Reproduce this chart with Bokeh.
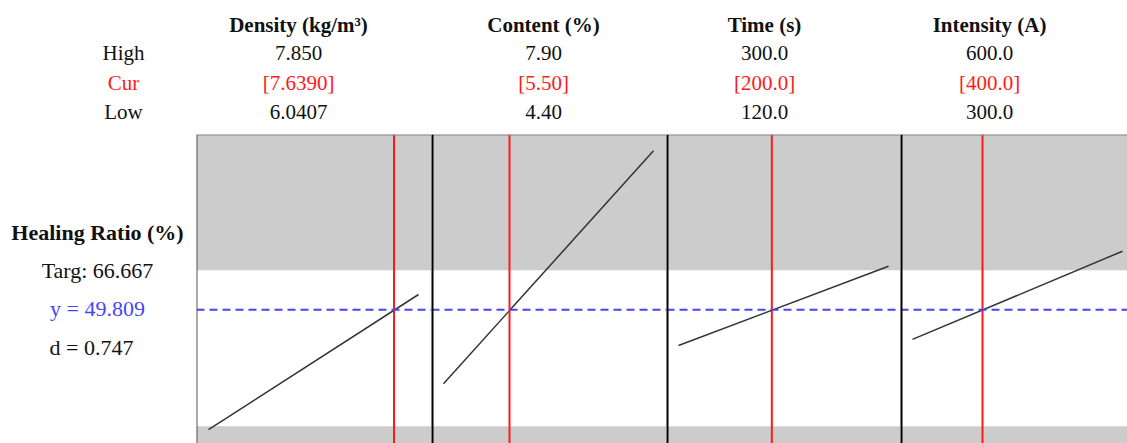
from bokeh.plotting import figure
from bokeh.layouts import row, column
from bokeh.models import Range1d, Span, BoxAnnotation
from bokeh.core.properties import value
from bokeh.embed import file_html
from bokeh.resources import INLINE

# ---------------- data ----------------
factors = ["Density (kg/m³)", "Content (%)", "Time (s)", "Intensity (A)"]
high = [7.850, 7.90, 300.0, 600.0]
cur = [7.6390, 5.50, 200.0, 400.0]
low = [6.0407, 4.40, 120.0, 300.0]
high_labels = ["7.850", "7.90", "300.0", "600.0"]
cur_labels = ["[7.6390]", "[5.50]", "[200.0]", "[400.0]"]
low_labels = ["6.0407", "4.40", "120.0", "300.0"]
resp_at_low = [-1.5, 18.1, 34.5, 37.1]
resp_at_high = [56.3, 117.8, 68.4, 74.8]
response_name = "Healing Ratio (%)"
target = 66.667
lower_bound = 0.0
y_pred = 49.809
desirability = 0.747

# ---------------- layout / style ----------------
FONT = value("Liberation Serif")
LEFT_W = 196
HEAD_H = 134
PANEL_H = 309
panel_widths = [235, 235, 234, 227]
pad_left = 12      # px between panel edge and the low setting
span_px = 210      # px from low to high setting
y_lo, y_hi = -7.4, 124.7
header_x = [298, 543, 764, 989]
row_label_x = 123
header_rows_y = [24, 52, 82, 111]
left_x = [97, 97, 97, 91]
left_y = [232, 270, 308, 347]
GREY = "#CCCCCC"
RED = "#FF1A1A"
BLUE = "#4545F5"


def bare(w, h, xr, yr):
    f = figure(width=w, height=h, x_range=xr, y_range=yr, output_backend="svg",
               toolbar_location=None, x_axis_type=None, y_axis_type=None,
               min_border=0, outline_line_color=None)
    f.xgrid.visible = False
    f.ygrid.visible = False
    return f


total_w = LEFT_W + sum(panel_widths)

# header
head = bare(total_w, HEAD_H, Range1d(0, total_w), Range1d(HEAD_H, 0))
head.text(x=header_x, y=[header_rows_y[0]] * 4, text=factors, text_font=FONT,
          text_font_size="21px", text_font_style="bold", text_align="center",
          text_baseline="middle", text_color="#111111")
for yy, labels, col in zip(header_rows_y[1:], [high_labels, cur_labels, low_labels],
                           ["#111111", RED, "#111111"]):
    head.text(x=header_x, y=[yy] * 4, text=labels, text_font=FONT, text_font_size="21px",
              text_align="center", text_baseline="middle", text_color=col)
head.text(x=[row_label_x] * 3, y=header_rows_y[1:], text=["High", "Cur", "Low"], text_font=FONT,
          text_font_size="21px", text_align="center", text_baseline="middle",
          text_color=["#111111", RED, "#111111"])

# left labels
left = bare(LEFT_W, PANEL_H, Range1d(0, LEFT_W), Range1d(HEAD_H + PANEL_H, HEAD_H))
left.text(x=left_x[:1], y=left_y[:1], text=[response_name], text_font=FONT, text_font_size="22px",
          text_font_style="bold", text_align="center", text_baseline="middle", text_color="#111111")
left.text(x=left_x[1:], y=left_y[1:],
          text=[f"Targ: {target:.3f}", f"y = {y_pred:.3f}", f"d = {desirability:.3f}"],
          text_font=FONT, text_font_size="22px", text_align="center", text_baseline="middle",
          text_color=["#111111", BLUE, "#111111"])

panels = []
for i in range(4):
    ppu = span_px / (high[i] - low[i])
    x0 = low[i] - pad_left / ppu
    x1 = x0 + panel_widths[i] / ppu
    p = bare(panel_widths[i], PANEL_H, Range1d(x0, x1), Range1d(y_lo, y_hi))
    p.background_fill_color = "white"
    p.add_layout(BoxAnnotation(bottom=target, fill_color=GREY, fill_alpha=1, line_color=None, level="underlay"))
    p.add_layout(BoxAnnotation(top=lower_bound, fill_color=GREY, fill_alpha=1, line_color=None, level="underlay"))
    p.line([low[i], high[i]], [resp_at_low[i], resp_at_high[i]], line_color="#333333", line_width=1.5)
    p.add_layout(Span(location=cur[i], dimension="height", line_color=RED, line_width=2))
    p.add_layout(Span(location=y_pred, dimension="width", line_color=BLUE, line_width=2, line_dash="8 5"))
    # borders
    p.add_layout(Span(location=y_hi, dimension="width", line_color="#888888", line_width=2))
    p.add_layout(Span(location=x0, dimension="height",
                      line_color="#555555" if i == 0 else "#000000",
                      line_width=2 if i == 0 else 4))
    panels.append(p)

layout = column(head, row(left, *panels))
open("out.html", "w").write(file_html(layout, INLINE))
